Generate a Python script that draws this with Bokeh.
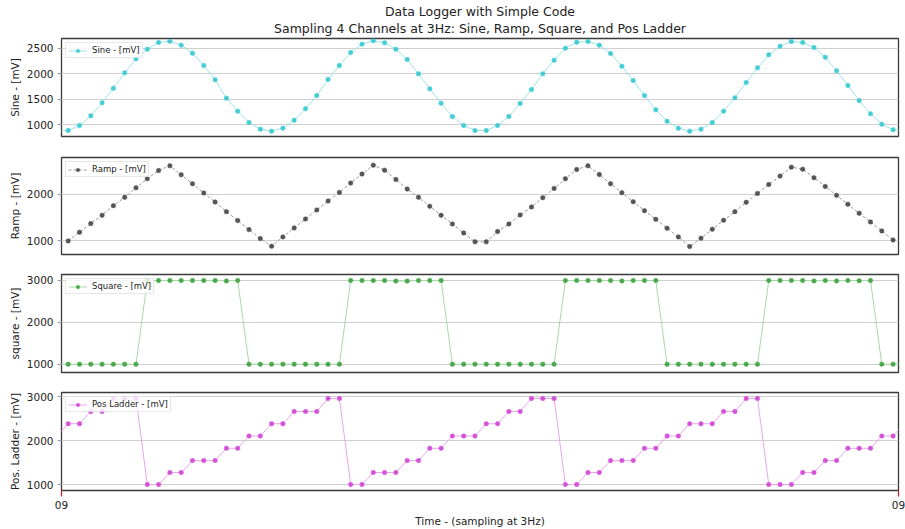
from bokeh.plotting import figure
from bokeh.layouts import column
from bokeh.models import Range1d, FixedTicker, Title
from bokeh.embed import file_html
from bokeh.resources import INLINE

nan = float("nan")

# sample index (3 Hz samples); -1 and 74 fall just outside the visible window
sample_index = list(range(-1, 75))

sine_mv = [880,
           890, 987, 1176, 1431, 1718, 2018, 2291, 2480, 2611, 2637,
           2559, 2402, 2161, 1881, 1522, 1268, 1046, 916, 876, 935,
           1092, 1313, 1574, 1887, 2161, 2415, 2578, 2643, 2604, 2480,
           2278, 1998, 1705, 1424,
           1163, 987, 890, 890, 987, 1163, 1418, 1692, 1998, 2265,
           2500, 2617, 2630, 2559, 2396, 2148, 1868, 1574, 1294, 1072,
           935, 876, 916, 1046, 1268, 1529, 1828, 2115, 2370, 2539,
           2630, 2611, 2513, 2324, 2057, 1770, 1476, 1216, 1013, 903,
           880]

ramp_mv = [nan,
           1000, 1186, 1371, 1550, 1757, 1936, 2143, 2336, 2514, 2614,
           2421, 2229, 2029, 1836, 1629, 1436, 1243, 1050, 886, 1086,
           1279, 1471, 1664, 1857, 2043, 2243, 2436, 2629, 2521, 2321,
           2114, 1936, 1743, 1550,
           1364, 1171, 979, 979, 1200, 1364, 1557, 1729, 1929, 2129,
           2336, 2536, 2614, 2429, 2229, 2036, 1843, 1650, 1464, 1271,
           1086, 879, 1057, 1250, 1443, 1629, 1829, 2021, 2214, 2393,
           2586, 2543, 2357, 2171, 1979, 1786, 1593, 1407, 1214, 1021,
           nan]

square_mv = ([1000] + [1000] * 7 + [3000] * 7 + [2990, 3000]
             + [1000] * 9
             + [3000] * 4 + [2985, 2985] + [3000] * 3
             + [1000] * 10
             + [3000] * 5 + [2990] + [3000] * 3
             + [1000] * 9
             + [3000] * 4 + [2990, 3000, 2990, 3000, 2993, 3000]
             + [1000] * 3)

ladder_mv = [2102,
             2381, 2381, 2660, 2660, 2955, 2955, 2955, 1000, 1000, 1272,
             1272, 1543, 1543, 1543, 1823, 1823, 2102, 2102, 2381, 2381,
             2660, 2660, 2660, 2955, 2955, 1000, 1000, 1272, 1272, 1272,
             1543, 1543, 1823, 1823,
             2102, 2102, 2102, 2381, 2381, 2660, 2660, 2955, 2955, 2955,
             1000, 1000, 1272, 1272, 1543, 1543, 1543, 1823, 1823, 2102,
             2102, 2381, 2381, 2381, 2660, 2660, 2955, 2955, 1000, 1000,
             1000, 1272, 1272, 1543, 1543, 1823, 1823, 1823, 2102, 2102,
             2381]

x_tick_labels = ["09", "09"]
X_START, X_END = -0.593, 73.48

FONT = "DejaVu Sans"
TXT = "#222222"
W = 905


def panel(values, marker_color, line_color, dash, ylabel, legend_label,
          yr, yticks, top, bottom, height, bottom_axis=False):
    p = figure(width=W, height=height, output_backend="svg", toolbar_location=None,
               x_range=Range1d(X_START, X_END), y_range=Range1d(*yr),
               min_border_left=61, min_border_right=7,
               min_border_top=top, min_border_bottom=bottom)
    p.line(sample_index, values, line_color=line_color, line_width=1,
           line_dash=dash, legend_label=legend_label)
    p.scatter(sample_index, values, size=4.5, fill_color=marker_color,
              line_color=marker_color, line_width=0.5, legend_label=legend_label)
    p.outline_line_color = "#3a3a3a"
    p.outline_line_width = 1.3
    p.xgrid.visible = False
    p.ygrid.grid_line_color = "#cfcfcf"
    p.ygrid.grid_line_width = 1.2
    p.yaxis.ticker = FixedTicker(ticks=yticks)
    p.yaxis.axis_line_color = None
    p.yaxis.major_tick_out = 4
    p.yaxis.major_tick_in = 0
    p.yaxis.minor_tick_line_color = None
    p.yaxis.major_tick_line_color = "#999999"
    p.yaxis.major_label_standoff = 4
    p.yaxis.major_label_text_font = FONT
    p.yaxis.major_label_text_font_size = "10.5px"
    p.yaxis.major_label_text_color = TXT
    p.yaxis.axis_label = ylabel
    p.yaxis.axis_label_text_font = FONT
    p.yaxis.axis_label_text_font_size = "10.5px"
    p.yaxis.axis_label_text_font_style = "normal"
    p.yaxis.axis_label_text_color = TXT
    p.yaxis.axis_label_standoff = 3
    if bottom_axis:
        p.xaxis.ticker = FixedTicker(ticks=[X_START + 1e-6, X_END - 1e-6])
        p.xaxis.major_label_overrides = {X_START + 1e-6: x_tick_labels[0],
                                         X_END - 1e-6: x_tick_labels[1]}
        p.xaxis.axis_line_color = None
        p.xaxis.major_tick_out = 6
        p.xaxis.major_tick_in = 0
        p.xaxis.major_tick_line_color = "red"
        p.xaxis.minor_tick_line_color = None
        p.xaxis.major_label_standoff = 4
        p.xaxis.major_label_text_font = FONT
        p.xaxis.major_label_text_font_size = "10.5px"
        p.xaxis.major_label_text_color = TXT
        p.xaxis.axis_label = "Time - (sampling at 3Hz)"
        p.xaxis.axis_label_text_font = FONT
        p.xaxis.axis_label_text_font_size = "10.5px"
        p.xaxis.axis_label_text_font_style = "normal"
        p.xaxis.axis_label_text_color = TXT
        p.xaxis.axis_label_standoff = 3
    else:
        p.xaxis.visible = False
    lg = p.legend[0]
    lg.location = "top_left"
    lg.margin = 4
    lg.padding = 2
    lg.spacing = 0
    lg.glyph_width = 19
    lg.glyph_height = 9
    lg.label_standoff = 5
    lg.label_text_font = FONT
    lg.label_text_font_size = "8.5px"
    lg.label_text_color = TXT
    lg.label_height = 9
    lg.border_line_color = "#d0d0d0"
    lg.border_line_width = 1
    lg.background_fill_alpha = 0.8
    return p


p1 = panel(sine_mv, "#45cdd5", "#9fe3e7", "solid", "Sine - [mV]", "Sine - [mV]",
           (772, 2689), [1000, 1500, 2000, 2500], 38, 10, 146)
p1.add_layout(Title(text="Sampling 4 Channels at 3Hz: Sine, Ramp, Square, and Pos Ladder",
                    align="center", text_font=FONT, text_font_size="12.5px",
                    text_font_style="normal", text_color=TXT, standoff=5,
                    text_line_height=0.8), "above")
p1.add_layout(Title(text="Data Logger with Simple Code",
                    align="center", text_font=FONT, text_font_size="12.5px",
                    text_font_style="normal", text_color=TXT, standoff=-4,
                    text_line_height=0.8), "above")

p2 = panel(ramp_mv, "#555555", "#9a9a9a", "3 2", "Ramp - [mV]", "Ramp - [mV]",
           (707, 2793), [1000, 2000], 11, 10, 118)
p3 = panel(square_mv, "#4aa84c", "#a6d9a7", "solid", "square - [mV]", "Square - [mV]",
           (801, 3143), [1000, 2000, 3000], 10, 10, 118)
p4 = panel(ladder_mv, "#d452d8", "#e8a6ec", "solid", "Pos. Ladder - [mV]", "Pos Ladder - [mV]",
           (864, 3091), [1000, 2000, 3000], 10, 38, 147, bottom_axis=True)

layout = column(p1, p2, p3, p4, spacing=0)
open("out.html", "w").write(file_html(layout, INLINE))
